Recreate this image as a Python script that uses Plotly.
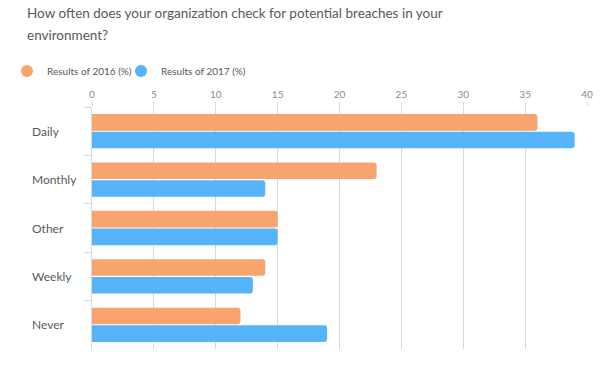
import plotly.graph_objects as go

categories = ["Daily", "Monthly", "Other", "Weekly", "Never"]
results_2016 = [36, 23, 15, 14, 12]
results_2017 = [39, 14, 15, 13, 19]
series_names = ["Results of 2016 (%)", "Results of 2017 (%)"]
x_ticks = [0, 5, 10, 15, 20, 25, 30, 35, 40]
title_lines = ["How often does your organization check for potential breaches in your",
               "environment?"]

orange = "#F8A46F"
blue = "#56B4FA"
text_color = "#595959"
grid_color = "#D9D9D9"
font_family = "Lato, 'Open Sans', sans-serif"

L, R, T, B = 92, 26, 107, 30
W, H = 613, 379
pw, ph = W - L - R, H - T - B

fig = go.Figure()
legend_ids = ["legend", "legend2"]
for name, vals, col, lg in [(series_names[0], results_2016, orange, legend_ids[0]),
                            (series_names[1], results_2017, blue, legend_ids[1])]:
    fig.add_trace(go.Bar(
        y=categories, x=vals, orientation="h", name=name,
        marker=dict(color=col, line=dict(width=0), cornerradius=3),
        showlegend=False, hoverinfo="x+name",
    ))
    fig.add_trace(go.Scatter(
        x=[None], y=[None], mode="markers", name=name, legend=lg,
        marker=dict(color=col, size=11, symbol="circle"),
        showlegend=True,
    ))

for c in categories:
    fig.add_annotation(
        x=(30 - L) / pw, xref="paper", y=c, yref="y", text=c, showarrow=False,
        xanchor="left", yanchor="middle",
        font=dict(size=12, color=text_color, family=font_family),
    )

for i, line in enumerate(title_lines):
    fig.add_annotation(
        x=(25 - L) / pw, xref="paper", y=1 + (T - 13 - 22 * i) / ph, yref="paper", text=line,
        showarrow=False, xanchor="left", yanchor="middle", align="left",
        font=dict(size=13.5, color=text_color, family=font_family),
    )

legend_style = dict(
    orientation="h", xref="container", xanchor="left",
    yref="container", y=1 - 71 / H, yanchor="middle",
    font=dict(size=10, color=text_color, family=font_family),
    itemsizing="constant", itemwidth=30, bgcolor="rgba(0,0,0,0)",
)

fig.update_layout(
    width=W, height=H,
    margin=dict(l=L, r=R, t=T, b=B, autoexpand=False),
    paper_bgcolor="white", plot_bgcolor="white",
    barmode="group", bargap=0.27, bargroupgap=0.06,
    legend=dict(legend_style, x=7 / W),
    legend2=dict(legend_style, x=121 / W),
    xaxis=dict(
        side="top", range=[0, 40], tickvals=x_ticks, ticktext=[str(t) for t in x_ticks],
        showgrid=True, gridcolor=grid_color, gridwidth=1,
        ticks="outside", ticklen=4, tickcolor=grid_color,
        tickfont=dict(size=10, color="#8c8c8c", family=font_family),
        zeroline=False, showline=False, fixedrange=True,
    ),
    yaxis=dict(
        categoryorder="array", categoryarray=categories, autorange="reversed",
        showticklabels=False, showgrid=False, zeroline=False,
        showline=True, linecolor=grid_color, linewidth=1,
        ticks="outside", tickson="boundaries", ticklen=7, tickcolor=grid_color,
        fixedrange=True,
    ),
)

fig.write_html("out.html", config={"displayModeBar": False},
               post_script="document.body.style.margin='0';")
